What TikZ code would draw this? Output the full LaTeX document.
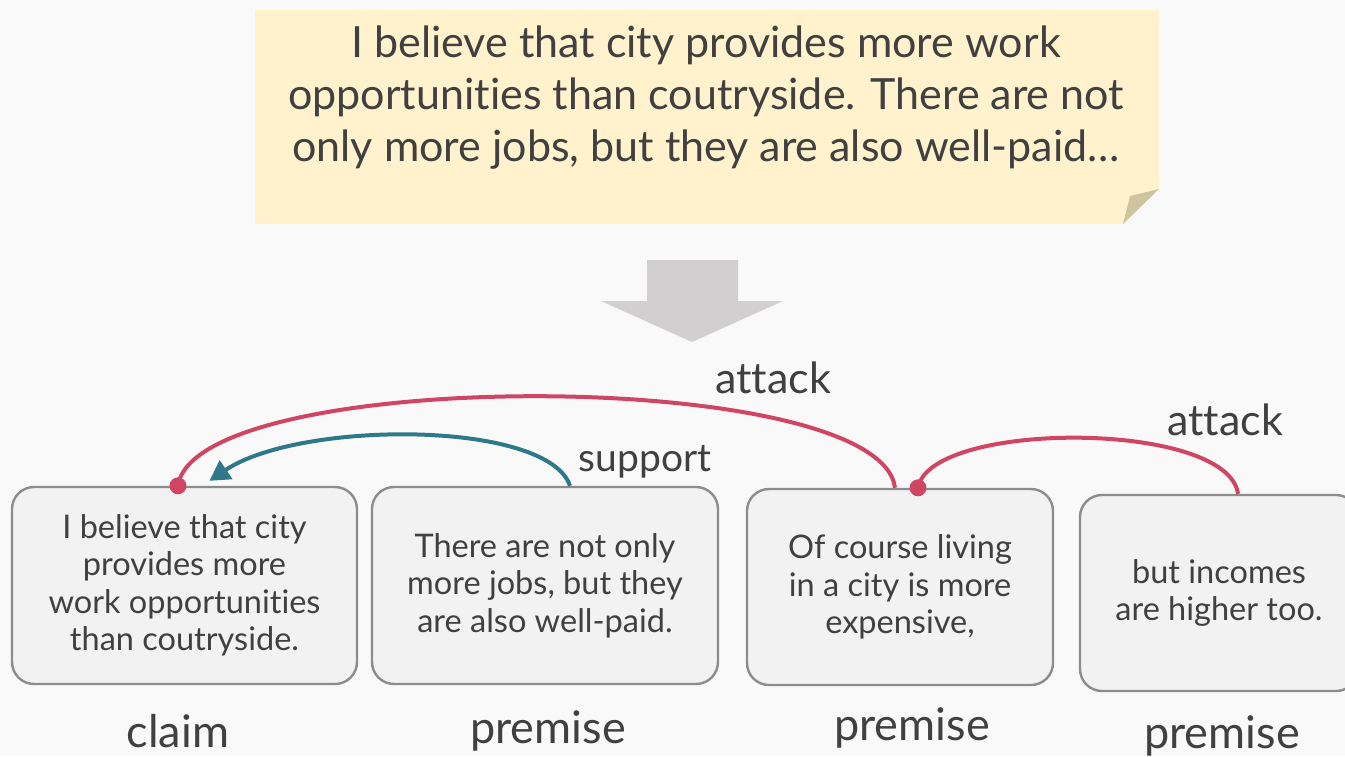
\documentclass[tikz,border=0pt]{standalone}
\usepackage{fontspec}
\setmainfont{Lato}[RawFeature={-liga;-clig;-dlig;-calt}]
\usetikzlibrary{arrows.meta,calc}
\definecolor{bg}{HTML}{F9F9F9}
\definecolor{notey}{HTML}{FFF2CC}
\definecolor{fold}{HTML}{CFC4A0}
\definecolor{txt}{HTML}{404040}
\definecolor{boxfill}{HTML}{F2F2F2}
\definecolor{boxline}{HTML}{8C8C8C}
\definecolor{attackc}{HTML}{CF4563}
\definecolor{supportc}{HTML}{2E788A}
\definecolor{arrowg}{HTML}{D1CFD0}
\tikzset{
  argbox/.style={draw=boxline, line width=2.4pt, fill=boxfill, rounded corners=22pt,
     text=txt, align=center, font=\fontsize{32.5}{37.5}\selectfont, inner sep=0pt},
  rolelabel/.style={text=txt, font=\fontsize{45}{50}\selectfont, inner sep=0pt},
  edgelabel/.style={text=txt, font=\fontsize{43}{48}\selectfont, inner sep=0pt},
  attackline/.style={draw=attackc, line width=4pt},
  supportline/.style={draw=supportc, line width=4pt, -{Triangle[length=20pt,width=22pt]}},
  dotc/.style={circle, fill=attackc, inner sep=0pt, minimum size=17pt},
}
\begin{document}
\begin{tikzpicture}[x=1pt,y=-1pt]
\useasboundingbox (0,0) rectangle (1345,756);
\fill[bg] (0,0) rectangle (1345,756);
% note
\fill[notey] (255,10) -- (1159,10) -- (1159,189) -- (1123,224) -- (255,224) -- cycle;
\fill[fold] (1159,189) -- (1130,196) -- (1123,224) -- cycle;
\node[text=txt, align=center, font=\fontsize{43}{52}\selectfont, inner sep=0pt] (note) at (706,98)
  {I believe that city provides more work\\opportunities than coutryside. There are not\\only more jobs, but they are also well-paid\ldots};
% big arrow
\fill[arrowg] (647,260) -- (738,260) -- (738,301) -- (783,301) -- (692,342) -- (601,301) -- (647,301) -- cycle;
% boxes
\node[argbox, minimum width=345pt, minimum height=197pt] (b1) at (184.5,585.5)
  {I believe that city\\provides more\\work opportunities\\than coutryside.};
\node[argbox, minimum width=346pt, minimum height=197pt] (b2) at (545,585.5)
  {There are not only\\more jobs, but they\\are also well-paid.};
\node[argbox, minimum width=306pt, minimum height=196pt] (b3) at (900,587)
  {Of course living\\in a city is more\\expensive,};
\node[argbox, minimum width=278pt, minimum height=196pt] (b4) at (1219,593)
  {but incomes\\are higher too.};
% role labels
\node[rolelabel] (l1) at (178,731) {claim};
\node[rolelabel] (l2) at (548,731) {premise};
\node[rolelabel] (l3) at (912,728) {premise};
\node[rolelabel] (l4) at (1222,736) {premise};
% connector anchors
\coordinate (a1) at ([xshift=-6.5pt]b1.north);
\coordinate (t1) at ([xshift=25pt,yshift=5pt]b1.north);
\coordinate (s2) at ([xshift=25pt]b2.north);
\coordinate (s3) at ([xshift=-5pt]b3.north);
\coordinate (d3) at ([xshift=18pt]b3.north);
\coordinate (s4) at ([xshift=19pt]b4.north);
% connectors
\draw[attackline] (s3) .. controls (880,366) and (195,366) .. (a1);
\draw[supportline] (s2) .. controls (548,420) and (300,420) .. (t1);
\draw[attackline] (s4) .. controls (1228,420) and (930,420) .. (d3);
\node[dotc] (dot1) at (a1) {};
\node[dotc] (dot3) at (d3) {};
% edge labels
\node[edgelabel] (e1) at (773,378) {attack};
\node[edgelabel, font=\fontsize{39}{44}\selectfont] (e2) at (645,462) {support};
\node[edgelabel] (e3) at (1225,420) {attack};
\end{tikzpicture}
\end{document}
